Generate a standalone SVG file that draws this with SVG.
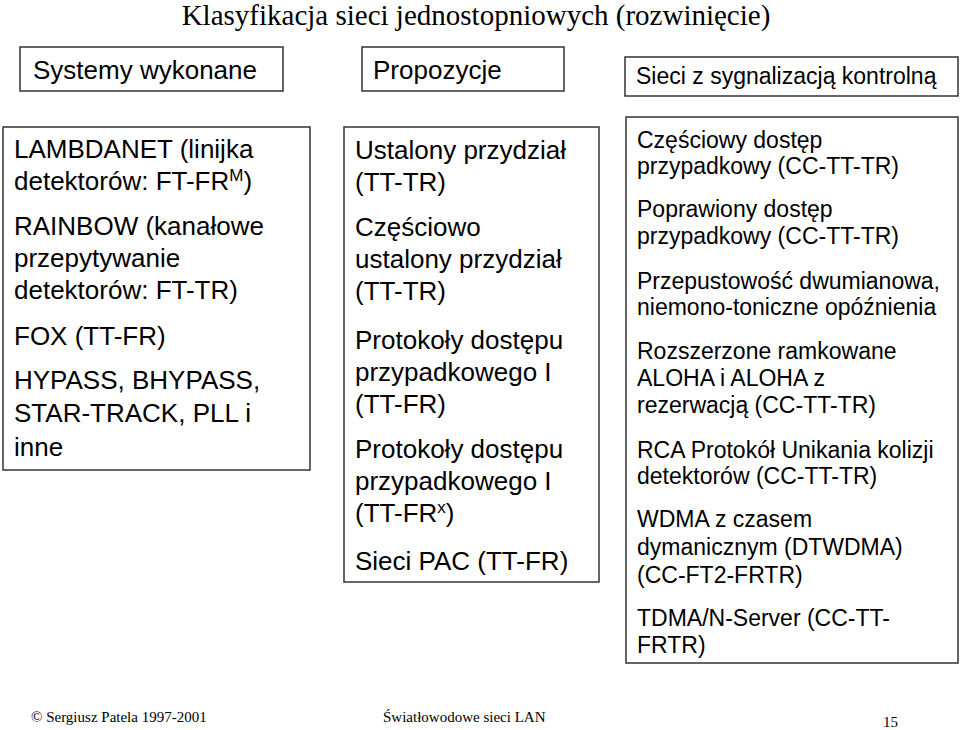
<svg xmlns="http://www.w3.org/2000/svg" width="960" height="730" viewBox="0 0 960 730">
<style>
.box{fill:#fff;stroke:#333;stroke-width:1.5}
.t{font-family:"Liberation Sans",Arial,sans-serif;fill:#000}
.l{font-size:26px}
.r{font-size:23px}
.s{font-family:"Liberation Serif","Times New Roman",serif;fill:#000}
</style>
<rect width="960" height="730" fill="#fff"/>
<text class="s" x="476" y="25" font-size="29" text-anchor="middle">Klasyfikacja sieci jednostopniowych (rozwinięcie)</text>
<g id="systemy">
<rect class="box" x="20" y="47" width="263" height="44"/>
<text class="t l" x="33" y="79">Systemy wykonane</text>
</g>
<g id="propozycje">
<rect class="box" x="362" y="47" width="202" height="44"/>
<text class="t l" x="373" y="79">Propozycje</text>
</g>
<g id="sieci">
<rect class="box" x="625" y="57" width="333" height="39"/>
<text class="t r" x="636" y="84">Sieci z sygnalizacją kontrolną</text>
</g>
<g id="systemy-lista">
<rect class="box" x="3" y="127" width="307" height="343"/>
<text class="t l" x="14">
<tspan x="14" y="158">LAMBDANET (linijka</tspan>
<tspan x="14" y="190">detektorów: FT-FR<tspan font-size="17" dy="-9">M</tspan><tspan dy="9">)</tspan></tspan>
<tspan x="14" y="235">RAINBOW (kanałowe</tspan>
<tspan x="14" y="267">przepytywanie</tspan>
<tspan x="14" y="299">detektorów: FT-TR)</tspan>
<tspan x="14" y="345">FOX (TT-FR)</tspan>
<tspan x="14" y="389">HYPASS, BHYPASS,</tspan>
<tspan x="14" y="422">STAR-TRACK, PLL i</tspan>
<tspan x="14" y="456">inne</tspan>
</text>
</g>
<g id="propozycje-lista">
<rect class="box" x="344" y="127" width="255" height="455"/>
<text class="t l">
<tspan x="355" y="159">Ustalony przydział</tspan>
<tspan x="355" y="191">(TT-TR)</tspan>
<tspan x="355" y="236">Częściowo</tspan>
<tspan x="355" y="268">ustalony przydział</tspan>
<tspan x="355" y="300">(TT-TR)</tspan>
<tspan x="355" y="349">Protokoły dostępu</tspan>
<tspan x="355" y="381">przypadkowego I</tspan>
<tspan x="355" y="413">(TT-FR)</tspan>
<tspan x="355" y="458">Protokoły dostępu</tspan>
<tspan x="355" y="490">przypadkowego I</tspan>
<tspan x="355" y="522">(TT-FR<tspan font-size="17" dy="-9">x</tspan><tspan dy="9">)</tspan></tspan>
<tspan x="355" y="570">Sieci PAC (TT-FR)</tspan>
</text>
</g>
<g id="sieci-lista">
<rect class="box" x="626" y="117" width="332" height="546"/>
<text class="t r">
<tspan x="637" y="148">Częściowy dostęp</tspan>
<tspan x="637" y="174">przypadkowy (CC-TT-TR)</tspan>
<tspan x="637" y="217">Poprawiony dostęp</tspan>
<tspan x="637" y="244">przypadkowy (CC-TT-TR)</tspan>
<tspan x="637" y="289">Przepustowość dwumianowa,</tspan>
<tspan x="637" y="315">niemono-toniczne opóźnienia</tspan>
<tspan x="637" y="359">Rozszerzone ramkowane</tspan>
<tspan x="637" y="386">ALOHA i ALOHA z</tspan>
<tspan x="637" y="413">rezerwacją (CC-TT-TR)</tspan>
<tspan x="637" y="458">RCA Protokół Unikania kolizji</tspan>
<tspan x="637" y="484">detektorów (CC-TT-TR)</tspan>
<tspan x="637" y="527">WDMA z czasem</tspan>
<tspan x="637" y="555">dymanicznym (DTWDMA)</tspan>
<tspan x="637" y="583">(CC-FT2-FRTR)</tspan>
<tspan x="637" y="626">TDMA/N-Server (CC-TT-</tspan>
<tspan x="637" y="653">FRTR)</tspan>
</text>
</g>
<g id="stopka">
<text class="s" x="31" y="722" font-size="15">© Sergiusz Patela 1997-2001</text>
<text class="s" x="383" y="722" font-size="15">Światłowodowe sieci LAN</text>
<text class="s" x="883" y="727" font-size="15">15</text>
</g>
</svg>
